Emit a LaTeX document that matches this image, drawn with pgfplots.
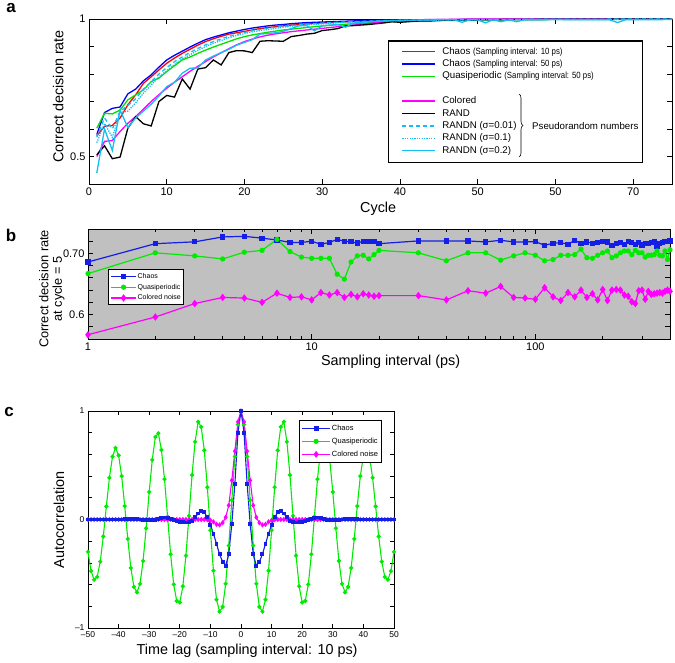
\documentclass[border=0pt]{standalone}
\usepackage{fontspec}
\setmainfont{Liberation Sans}
\usepackage{graphicx}
\usepackage{pgfplots}
\usepackage{pgfplotstable}
\pgfplotsset{compat=1.18}
\usetikzlibrary{decorations.pathreplacing}

\definecolor{cred}{RGB}{255,0,0}
\definecolor{cblue}{RGB}{0,0,255}
\definecolor{cgreen}{RGB}{0,225,0}
\definecolor{cmag}{RGB}{255,0,255}
\definecolor{ccyan}{RGB}{20,190,245}
\definecolor{bblue}{RGB}{20,30,230}
\definecolor{bgreen}{RGB}{0,235,0}
\definecolor{bgray}{RGB}{192,192,192}

\pgfplotsset{
  base/.style={scale only axis, axis line style={line width=0.9pt},
    tick align=inside, major tick length=5pt, minor tick length=3pt,
    every tick/.append style={line width=0.8pt, black},
    /pgf/number format/assume math mode=true, legend cell align=left},
}

\pgfplotstableread{
x chaos quasi colored
1 0.686 0.667 0.567
2 0.716 0.701 0.596
3 0.719 0.696 0.618
4 0.727 0.691 0.628
5 0.728 0.702 0.627
6 0.725 0.705 0.620
7 0.722 0.723 0.635
8 0.718 0.703 0.628
9 0.718 0.694 0.629
10 0.720 0.692 0.624
11 0.715 0.692 0.636
12 0.718 0.692 0.632
13 0.723 0.666 0.636
14 0.720 0.658 0.628
15 0.719 0.686 0.633
16 0.717 0.696 0.629
17 0.720 0.697 0.634
18 0.720 0.691 0.632
19 0.719 0.698 0.630
20 0.716 0.705 0.631
30 0.7205 0.701 0.631
40 0.7205 0.688 0.624
50 0.7205 0.701 0.639
60 0.7188 0.701 0.635
70 0.7216 0.689 0.646
80 0.7188 0.696 0.628
90 0.7188 0.701 0.627
100 0.7194 0.697 0.625
110 0.7133 0.688 0.644
120 0.7166 0.690 0.629
130 0.7177 0.697 0.623
140 0.7149 0.697 0.636
150 0.7216 0.698 0.629
160 0.7161 0.707 0.640
170 0.7188 0.693 0.628
180 0.7166 0.692 0.634
190 0.7177 0.697 0.624
200 0.7194 0.701 0.641
210 0.7188 0.704 0.623
220 0.7133 0.693 0.640
230 0.7161 0.696 0.641
240 0.7177 0.701 0.640
250 0.7149 0.704 0.632
260 0.7194 0.704 0.630
270 0.7177 0.698 0.621
280 0.7149 0.705 0.618
290 0.7177 0.701 0.639
300 0.7138 0.701 0.640
310 0.7166 0.694 0.625
320 0.7161 0.697 0.638
330 0.7177 0.697 0.633
340 0.7194 0.698 0.634
350 0.7122 0.704 0.635
360 0.7161 0.697 0.636
370 0.7177 0.696 0.635
380 0.7194 0.704 0.638
390 0.7194 0.690 0.640
400 0.7205 0.706 0.638
}\tabB

\pgfplotstableread{
x chaos quasi colored
-50 0.000 -0.299 0.000
-49 0.000 -0.475 0.000
-48 0.000 -0.555 0.000
-47 0.000 -0.529 0.000
-46 0.000 -0.389 0.000
-45 0.000 -0.156 0.000
-44 0.000 0.121 0.000
-43 0.000 0.385 0.000
-42 0.000 0.579 0.000
-41 0.000 0.660 0.000
-40 0.000 0.591 0.000
-39 0.000 0.400 0.000
-38 0.001 0.124 0.000
-37 0.002 -0.179 0.000
-36 0.003 -0.446 0.000
-35 0.003 -0.621 0.000
-34 0.002 -0.671 0.000
-33 0.000 -0.593 0.000
-32 -0.002 -0.382 0.000
-31 -0.004 -0.081 0.000
-30 -0.006 0.254 0.000
-29 -0.005 0.549 0.000
-28 -0.002 0.760 0.000
-27 0.005 0.795 0.000
-26 0.013 0.641 0.000
-25 0.018 0.373 0.000
-24 0.016 0.027 0.000
-23 0.008 -0.320 0.000
-22 -0.003 -0.598 0.000
-21 -0.012 -0.751 0.000
-20 -0.020 -0.765 0.000
-19 -0.025 -0.616 0.000
-18 -0.028 -0.333 0.000
-17 -0.025 0.033 0.000
-16 -0.010 0.410 0.000
-15 0.020 0.717 0.000
-14 0.055 0.900 0.000
-13 0.075 0.853 0.000
-12 0.065 0.638 0.000
-11 0.020 0.297 -0.002
-10 -0.050 -0.100 -0.008
-9 -0.130 -0.472 -0.022
-8 -0.225 -0.739 -0.045
-7 -0.320 -0.849 -0.050
-6 -0.390 -0.805 -0.030
-5 -0.425 -0.592 0.020
-4 -0.320 -0.241 0.130
-3 -0.040 0.178 0.360
-2 0.330 0.580 0.630
-1 0.800 0.876 0.900
0 1.000 1.000 1.000
1 0.800 0.876 0.900
2 0.330 0.580 0.630
3 -0.040 0.178 0.360
4 -0.320 -0.241 0.130
5 -0.425 -0.592 0.020
6 -0.390 -0.805 -0.030
7 -0.320 -0.849 -0.050
8 -0.225 -0.739 -0.045
9 -0.130 -0.472 -0.022
10 -0.050 -0.100 -0.008
11 0.020 0.297 -0.002
12 0.065 0.638 0.000
13 0.075 0.853 0.000
14 0.055 0.900 0.000
15 0.020 0.717 0.000
16 -0.010 0.410 0.000
17 -0.025 0.033 0.000
18 -0.028 -0.333 0.000
19 -0.025 -0.616 0.000
20 -0.020 -0.765 0.000
21 -0.012 -0.751 0.000
22 -0.003 -0.598 0.000
23 0.008 -0.320 0.000
24 0.016 0.027 0.000
25 0.018 0.373 0.000
26 0.013 0.641 0.000
27 0.005 0.795 0.000
28 -0.002 0.760 0.000
29 -0.005 0.549 0.000
30 -0.006 0.254 0.000
31 -0.004 -0.081 0.000
32 -0.002 -0.382 0.000
33 0.000 -0.593 0.000
34 0.002 -0.671 0.000
35 0.003 -0.621 0.000
36 0.003 -0.446 0.000
37 0.002 -0.179 0.000
38 0.001 0.124 0.000
39 0.000 0.400 0.000
40 0.000 0.591 0.000
41 0.000 0.660 0.000
42 0.000 0.579 0.000
43 0.000 0.385 0.000
44 0.000 0.121 0.000
45 0.000 -0.156 0.000
46 0.000 -0.389 0.000
47 0.000 -0.529 0.000
48 0.000 -0.555 0.000
49 0.000 -0.475 0.000
50 0.000 -0.299 0.000
}\tabC

\begin{document}
\begin{tikzpicture}
\useasboundingbox (0,0) rectangle (675pt,662pt);
\node[font=\bfseries\fontsize{17}{17}\selectfont] at (11pt,654pt) {a};
\node[font=\bfseries\fontsize{17}{17}\selectfont] at (11pt,427pt) {b};
\node[font=\bfseries\fontsize{17}{17}\selectfont] at (9pt,250pt) {c};

% ---------------- panel a ----------------
\begin{axis}[base, at={(89pt,478pt)}, anchor=south west, width=583pt, height=165pt,
  xmin=0, xmax=75, ymin=0.4, ymax=1,
  xtick={0,10,20,30,40,50,60,70}, xticklabels={0,10,20,30,40,50,50,70},
  ytick={0.5,0.6,0.7,0.8,0.9,1}, yticklabels={0.5,,,,,1},
  tick label style={font=\fontsize{11}{12}\selectfont},
  xlabel={Cycle}, ylabel={Correct decision rate},
  label style={font=\fontsize{14.4}{16}\selectfont},
  xlabel style={at={(axis description cs:0.496,-0.152)}, anchor=center},
  ylabel style={at={(axis description cs:-0.053,0.53)}, anchor=center},
  legend style={at={(rel axis cs:0.533,0.847)}, anchor=north west, draw=white, line width=0.2pt,
    fill=white, inner xsep=2pt, inner ysep=1pt, row sep=0pt, column sep=5pt,
    nodes={inner sep=1.2pt, text height=7.5pt, text depth=2.5pt, font=\fontsize{9.7}{11}\selectfont}},
  legend image code/.code={\draw[#1] (0pt,0pt) -- (33pt,0pt);},
]
\draw[line width=0.9pt, fill=white] (rel axis cs:0.513,0.867) rectangle (rel axis cs:0.9485,0.133);
\addplot[cred, line width=1.3pt] coordinates {(1,.575)(2,.610)(3,.613)(4,.640)(5,.688)(6,.724)(7,.766)(8,.790)(9,.815)(10,.839)(11,.858)(12,.875)(13,.890)(14,.905)(15,.918)(16,.928)(17,.937)(18,.945)(19,.950)(20,.955)(21,.960)(22,.965)(23,.969)(24,.972)(25,.975)(26,.978)(27,.980)(28,.982)(29,.984)(30,.986)(31,.987)(32,.989)(33,.990)(34,.991)(35,.992)(36,.993)(37,.994)(38,.995)(39,.995)(40,.996)(45,.997)(50,.998)(55,.999)(60,.999)(65,.999)(70,1.0)(75,1.0)};
\addlegendentry{Chaos {\fontsize{9}{10}\selectfont\scalebox{0.87}[1]{(Sampling interval: 10 ps)}}}
\addplot[cblue, line width=1.3pt] coordinates {(1,.580)(2,.660)(3,.675)(4,.680)(5,.728)(6,.745)(7,.775)(8,.797)(9,.825)(10,.851)(11,.868)(12,.883)(13,.898)(14,.912)(15,.925)(16,.934)(17,.942)(18,.950)(19,.956)(20,.962)(21,.967)(22,.971)(23,.975)(24,.978)(25,.980)(26,.983)(27,.985)(28,.987)(29,.988)(30,.989)(31,.990)(32,.991)(33,.992)(34,.993)(35,.994)(36,.995)(37,.995)(38,.996)(39,.996)(40,.997)(45,.998)(50,.999)(55,.999)(60,1.0)(65,1.0)(70,1.0)(75,1.0)};
\addlegendentry{Chaos {\fontsize{9}{10}\selectfont\scalebox{0.87}[1]{(Sampling interval: 50 ps)}}}
\addplot[cgreen, line width=1.3pt] coordinates {(1,.603)(2,.657)(3,.655)(4,.669)(5,.706)(6,.724)(7,.742)(8,.772)(9,.785)(10,.809)(11,.830)(12,.851)(13,.862)(14,.875)(15,.887)(16,.898)(17,.908)(18,.918)(19,.928)(20,.936)(21,.942)(22,.947)(23,.952)(24,.956)(25,.960)(26,.963)(27,.966)(28,.969)(29,.972)(30,.975)(31,.977)(32,.979)(33,.981)(34,.983)(35,.985)(36,.986)(37,.988)(38,.989)(39,.990)(40,.991)(45,.994)(50,.996)(55,.997)(60,.998)(65,.998)(70,.999)(75,.999)};
\addlegendentry{Quasiperiodic {\fontsize{9}{10}\selectfont\scalebox{0.87}[1]{(Sampling interval: 50 ps)}}}
\addlegendimage{draw=white, line width=0.1pt}
\addlegendentry{}
\addplot[cmag, line width=1.3pt] coordinates {(1,.500)(2,.555)(3,.558)(4,.591)(5,.621)(6,.645)(7,.672)(8,.700)(9,.725)(10,.748)(11,.770)(12,.790)(13,.810)(14,.828)(15,.845)(16,.862)(17,.877)(18,.892)(19,.906)(20,.918)(21,.927)(22,.935)(23,.941)(24,.946)(25,.950)(26,.954)(27,.957)(28,.960)(29,.963)(30,.966)(31,.969)(32,.972)(33,.975)(34,.978)(35,.981)(36,.984)(37,.987)(38,.989)(39,.991)(40,.993)(45,.998)(50,1.0)(55,1.0)(60,1.0)(65,1.0)(70,1.0)(75,1.0)};
\addlegendentry{Colored}
\addplot[black, line width=1.3pt] coordinates {(1,.506)(2,.539)(3,.492)(4,.498)(5,.603)(6,.645)(7,.619)(8,.611)(9,.700)(10,.722)(11,.716)(12,.782)(13,.745)(14,.818)(15,.823)(16,.851)(17,.833)(18,.878)(19,.885)(20,.884)(21,.878)(22,.919)(23,.921)(24,.920)(25,.919)(26,.936)(27,.940)(28,.945)(29,.948)(30,.958)(31,.961)(32,.965)(33,.975)(34,.976)(35,.978)(36,.980)(37,.983)(38,.986)(39,.990)(40,.988)(41,.990)(42,.992)(43,.993)(44,.993)(45,.995)(47,.996)(50,.997)(55,.998)(60,.999)(65,.999)(70,1.0)(75,1.0)};
\addlegendentry{RAND}
\addplot[ccyan, line width=1.3pt, dash pattern=on 4pt off 3pt] coordinates {(1,.570)(2,.640)(3,.600)(4,.665)(5,.685)(6,.710)(7,.745)(8,.772)(9,.800)(10,.823)(11,.845)(12,.862)(13,.878)(14,.893)(15,.906)(16,.918)(17,.928)(18,.937)(19,.944)(20,.951)(21,.957)(22,.962)(23,.966)(24,.970)(25,.973)(26,.976)(27,.979)(28,.981)(29,.983)(30,.985)(32,.988)(34,.990)(36,.992)(38,.994)(40,.995)(45,.997)(50,.998)(60,.999)(75,1.0)};
\addlegendentry{RANDN (σ=0.01)}
\addplot[ccyan, line width=1.3pt, dash pattern=on 1.2pt off 1.2pt] coordinates {(1,.550)(2,.620)(3,.570)(4,.660)(5,.665)(6,.695)(7,.730)(8,.760)(9,.790)(10,.812)(11,.835)(12,.855)(13,.870)(14,.886)(15,.900)(16,.912)(17,.922)(18,.932)(19,.940)(20,.947)(21,.953)(22,.958)(23,.962)(24,.966)(25,.970)(26,.973)(27,.976)(28,.978)(29,.980)(30,.982)(32,.986)(34,.989)(36,.991)(38,.993)(40,.994)(45,.996)(50,.997)(60,.998)(75,.999)};
\addlegendentry{RANDN (σ=0.1)}
\addplot[ccyan, line width=1.3pt] coordinates {(1,.440)(2,.600)(3,.522)(4,.669)(5,.605)(6,.640)(7,.665)(8,.690)(9,.720)(10,.754)(11,.770)(12,.803)(13,.821)(14,.822)(15,.851)(16,.865)(17,.878)(18,.890)(19,.905)(20,.915)(21,.925)(22,.945)(23,.947)(24,.950)(25,.955)(26,.965)(27,.975)(28,.976)(29,.957)(30,.975)(31,.978)(32,.980)(33,.970)(34,.985)(35,.988)(36,.990)(37,.992)(38,.993)(40,.995)(42,.996)(45,.997)(47,.997)(48,.988)(49,.997)(50,.997)(51,.986)(52,.997)(53,.990)(54,.997)(55,.990)(56,.997)(60,.998)(65,.997)(67,.997)(68,.987)(69,.997)(75,.998)};
\addlegendentry{RANDN (σ=0.2)}
\end{axis}
\draw[line width=0.6pt, decorate, decoration={brace, amplitude=4pt}] (519pt,568pt) -- (519pt,505pt);
\node[anchor=west, font=\fontsize{9.7}{11}\selectfont, inner sep=0pt] at (532pt,536pt) {Pseudorandom numbers};
\draw[line width=0.9pt] (388pt,621pt) rectangle (642pt,500pt);

% ---------------- panel b ----------------
\begin{axis}[base, at={(88pt,323pt)}, anchor=south west, width=582pt, height=110pt,
  xmode=log, log basis x=10, xmin=1, xmax=400, ymin=0.56, ymax=0.74,
  xtick={1,10,100}, xticklabels={1,10,100},
  minor xtick={2,3,4,5,6,7,8,9,20,30,40,50,60,70,80,90,200,300,400},
  ytick={0.56,0.58,0.60,0.62,0.64,0.66,0.68,0.70,0.72,0.74},
  yticklabels={,,0.6,,,,,0.70,,},
  tick label style={font=\fontsize{11}{12}\selectfont},
  axis background/.style={fill=bgray},
  xlabel={Sampling interval (ps)},
  ylabel={Correct decision rate\\at cycle = 5},
  xlabel style={font=\fontsize{14.4}{16}\selectfont, at={(axis description cs:0.52,-0.21)}, anchor=center},
  ylabel style={font=\fontsize{12.8}{13.5}\selectfont, align=center, at={(axis description cs:-0.062,0.455)}, anchor=center},
  legend style={at={(rel axis cs:0.0344,0.636)}, anchor=north west, draw=black, line width=0.9pt,
    fill=white, inner xsep=2pt, inner ysep=1.5pt, row sep=0pt,
    nodes={inner sep=1pt, text height=6.3pt, text depth=2.5pt, font=\fontsize{7}{8}\selectfont}},
  legend image code/.code={\draw[mark repeat=2, mark phase=2, #1] plot coordinates {(0pt,0pt) (12.5pt,0pt) (25pt,0pt)};},
]
\addplot[bblue, line width=1.2pt, mark=square*, mark size=2pt] table[x=x, y=chaos] {\tabB};
\addlegendentry{Chaos}
\addplot[bgreen, line width=1.2pt, mark=*, mark size=2pt] table[x=x, y=quasi] {\tabB};
\addlegendentry{Quasiperiodic}
\addplot[cmag, line width=1.2pt, mark=diamond*, mark size=2.8pt] table[x=x, y=colored] {\tabB};
\addlegendentry{Colored noise}
\end{axis}

% ---------------- panel c ----------------
\begin{axis}[base, at={(88pt,34pt)}, anchor=south west, width=306pt, height=217pt,
  xmin=-50, xmax=50, ymin=-1, ymax=1,
  xtick={-50,-40,-30,-20,-10,0,10,20,30,40,50},
  xticklabels={--50,--40,--30,--20,--10,0,10,20,30,40,50},
  ytick={-1,-0.8,-0.6,-0.4,-0.2,0,0.2,0.4,0.6,0.8,1},
  yticklabels={--1,,,,,0,,,,,1},
  tick label style={font=\fontsize{8.5}{10}\selectfont},
  major tick length=4pt,
  xlabel={Time lag (sampling interval: 10 ps)}, ylabel={Autocorrelation},
  label style={font=\fontsize{14.4}{16}\selectfont},
  xlabel style={at={(axis description cs:0.52,-0.106)}, anchor=center},
  ylabel style={at={(axis description cs:-0.095,0.498)}, anchor=center},
  legend style={at={(rel axis cs:0.69,0.959)}, anchor=north west, draw=black, line width=0.9pt,
    fill=white, inner xsep=2pt, inner ysep=1.5pt, row sep=0pt,
    nodes={inner sep=1.2pt, text height=7.4pt, text depth=3.2pt, font=\fontsize{7.5}{8.5}\selectfont}},
  legend image code/.code={\draw[mark repeat=2, mark phase=2, #1] plot coordinates {(0pt,0pt) (14pt,0pt) (28pt,0pt)};},
]
\addplot[bgreen, line width=1.1pt, mark=*, mark size=1.5pt, forget plot] table[x=x, y=quasi] {\tabC};
\addplot[cmag, line width=1.1pt, mark=diamond*, mark size=1.8pt, forget plot] table[x=x, y=colored] {\tabC};
\addplot[bblue, line width=1.1pt, mark=square*, mark size=1.4pt, forget plot] table[x=x, y=chaos] {\tabC};
\addlegendimage{bblue, line width=1.1pt, mark=square*, mark size=2pt}
\addlegendentry{Chaos}
\addlegendimage{bgreen, line width=1.1pt, mark=*, mark size=2pt}
\addlegendentry{Quasiperiodic}
\addlegendimage{cmag, line width=1.1pt, mark=diamond*, mark size=2.6pt}
\addlegendentry{Colored noise}
\end{axis}
\end{tikzpicture}
\end{document}
